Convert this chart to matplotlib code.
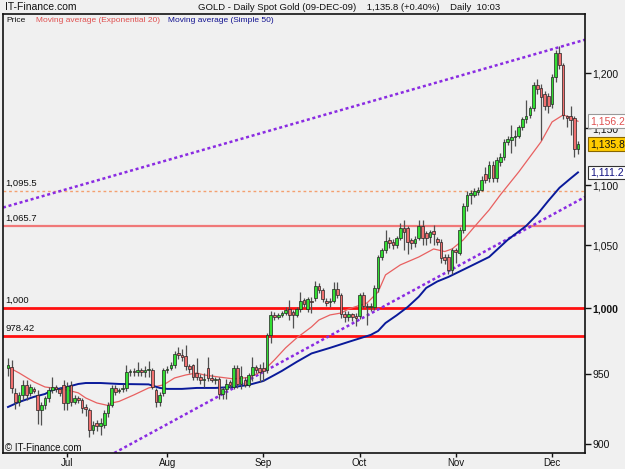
import matplotlib
matplotlib.use("Agg")
import matplotlib.pyplot as plt
import matplotlib.transforms as mtransforms
from matplotlib.ticker import FixedLocator, NullLocator, NullFormatter

plt.rcParams['font.family'] = ['Liberation Sans', 'DejaVu Sans']

# daily candles, June 2009 -> 09-Dec-2009 (bar index order)
opens = [955, 955.4, 936.4, 929.8, 934.9, 942.2, 936, 939, 934.9, 924.1,
         927.7, 932.8, 938.5, 940.7, 939, 942.2, 929.1, 942, 929.8, 932.8,
         931.3, 926, 924.1, 910, 914.5, 912.5, 913.4, 922, 927.7, 940,
         937.5, 939, 940, 951.7, 952.5, 951.5, 953, 951.5, 953, 953,
         938.5, 930, 936, 953, 954.5, 957, 966, 964.5, 963.4, 956,
         956.9, 951, 948.1, 946, 955, 947, 946, 946.4, 935.5, 939.3,
         944, 941, 954.5, 943, 945.8, 942.5, 949.5, 955.5, 955, 954.5,
         953.3, 979.4, 994.5, 993.5, 994.5, 996.5, 999.4, 997, 995, 999.5,
         1006.5, 999.4, 1006, 1008, 1017.6, 1014.3, 1006, 1004.5, 1005.3, 1014.8,
         1010, 995.4, 993, 995.4, 994, 994, 1010.5, 1001.5, 1001, 1001,
         1015.5, 1040.9, 1046.3, 1054.4, 1053, 1050.3, 1055.8, 1064, 1064, 1054.4,
         1051.6, 1055.8, 1065.7, 1060, 1056.5, 1062, 1055, 1053, 1040.9, 1040.9,
         1030.2, 1046, 1044, 1062.6, 1082.2, 1092, 1092, 1094.5, 1096.5, 1110,
         1106, 1117.6, 1106, 1120.5, 1124.8, 1137.8, 1139.4, 1142, 1143.4, 1150.7,
         1157.8, 1161.9, 1167.8, 1189.1, 1186, 1181, 1179, 1172, 1196.7, 1219.2,
         1207.5, 1160.5, 1160.5, 1159, 1131.6]
highs = [962, 960.7, 940, 937, 946, 946, 943, 941, 938.5, 930,
         934, 941, 948, 942, 941, 946, 944, 945, 935, 934,
         933, 928, 925.5, 916, 917, 918, 924, 930, 942, 942,
         940, 943, 957, 954, 955, 959, 955, 956, 960, 955,
         940, 937, 955, 956, 959, 967, 970.5, 969, 972, 958,
         958, 962, 950, 951, 963, 950, 948, 948, 941, 946.5,
         946, 957, 957, 956, 948, 951, 962.8, 957, 958, 959,
         981, 998, 997, 996, 998, 1001, 1006.5, 998.5, 1001, 1012.5,
         1008, 1009, 1009, 1021.4, 1020, 1016, 1008, 1008, 1020.5, 1020.5,
         1012, 997.7, 998, 996, 996.5, 1012, 1013, 1004, 1004, 1018,
         1042, 1048, 1062.6, 1057, 1055, 1058, 1068, 1070.9, 1066, 1056,
         1058, 1070.9, 1070.9, 1062, 1063, 1067, 1057, 1055, 1043, 1043,
         1048, 1048, 1065, 1085, 1095, 1096, 1098, 1099, 1108, 1116,
         1121, 1121, 1125, 1128, 1140, 1143, 1152.6, 1148, 1153, 1160,
         1175, 1170, 1192, 1195, 1190, 1184, 1182, 1199, 1222, 1225.8,
         1210, 1162, 1170, 1161, 1139]
lows = [949, 936.4, 925, 927, 931, 931, 934, 936, 914, 913,
        925, 930, 936, 937, 934, 924, 924, 927, 928, 929,
        922, 920, 905, 907, 909, 906, 911, 919, 926, 935,
        936, 937, 938, 949, 949, 949, 949, 948, 948, 939,
        925.9, 927, 934, 951, 953, 955, 961, 960, 953, 951,
        946, 946, 943, 941, 945, 944, 943, 932, 932, 932,
        940, 939, 940, 939, 941, 941, 945, 951, 944, 945,
        951, 973, 991, 992, 993, 995, 991, 985, 993, 997,
        1001, 997, 996, 1006, 1012, 1005, 1002, 1001, 1004, 1008,
        992.5, 989.5, 990, 990, 986, 992, 1000, 987, 998, 999,
        1013, 1038, 1044, 1048, 1047, 1048, 1054, 1046, 1043, 1047,
        1049, 1054, 1050, 1050, 1052, 1050, 1050, 1036, 1035, 1027,
        1027, 1036, 1042, 1060, 1078, 1084, 1090, 1092, 1095, 1102,
        1103, 1103, 1103, 1117, 1122, 1135, 1128.5, 1134, 1141, 1148,
        1155, 1159, 1165, 1180.9, 1139.4, 1166, 1164, 1168, 1192, 1204,
        1158, 1151, 1144, 1125, 1127]
closes = [957, 940, 929.8, 934.9, 942.2, 934.9, 940.5, 938, 924.1, 927.7,
          932.8, 938.5, 940.7, 939, 936.5, 929.1, 941.5, 929.8, 932.8, 931.3,
          925.5, 924.5, 909.9, 913, 912.5, 915, 922, 927.7, 940, 937,
          938.5, 940, 951.7, 952.5, 951.5, 953, 951.5, 953, 954, 941,
          929.5, 934.9, 953.3, 954, 957, 965.4, 964.5, 963, 956, 954,
          948.1, 948, 945.8, 946.8, 947, 946, 946.5, 935.5, 939.3, 943,
          942.5, 954.5, 943, 948.5, 942.2, 949.5, 955.5, 953.3, 952, 952.5,
          979.4, 994.5, 993.5, 994.5, 996, 998.7, 995, 994.5, 999.5, 1006,
          1003, 1007.4, 1005, 1017.6, 1014.3, 1007.5, 1004, 1005.3, 1014.8, 1010,
          995.4, 993, 995.4, 993.5, 992.5, 1010, 1002, 1001, 1002, 1015.5,
          1040.9, 1046.3, 1053.8, 1051.6, 1050.3, 1055.8, 1064, 1061.3, 1052.7, 1051.6,
          1055.5, 1065.7, 1056, 1056, 1061, 1059.5, 1052.9, 1039.8, 1038.2, 1030.2,
          1046.3, 1045, 1062.6, 1082.2, 1092, 1093.5, 1095, 1096.5, 1104.6, 1104.6,
          1117.6, 1106, 1122, 1124.8, 1137.8, 1140.5, 1142, 1143.4, 1150.7, 1157.8,
          1161, 1167.8, 1189.1, 1185.9, 1178, 1170, 1170, 1196.7, 1219.2, 1207.5,
          1161.9, 1159.2, 1157.2, 1132, 1135.8]

# moving averages (bar index -> value)
ema_idx = [0, 3, 7, 10, 12, 16, 19, 21, 24, 27, 28, 30, 34, 38, 42, 45, 48, 51, 53, 57,
           61, 65, 69, 72, 75, 78, 82, 84, 87, 90, 92, 97, 100, 102, 106, 111, 115, 118,
           120, 123, 126, 130, 133, 138, 144, 147, 150, 152, 154]
ema_val = [955.4, 951.0, 944.4, 940.7, 940.0, 938.5, 936.4, 932.7, 929.1, 927.3, 929.1,
           930.2, 934.9, 940.0, 942.2, 947.3, 949.5, 951.0, 949.5, 948.0, 946.6, 947.7,
           952.5, 960.7, 969.7, 977.2, 985.6, 990.9, 994.8, 996.3, 999.4, 1004.1, 1012.7,
           1026.2, 1034.2, 1040.6, 1047.1, 1045.0, 1047.1, 1054.5, 1065.2, 1079.3, 1091.9,
           1111.6, 1137.8, 1155.6, 1161.9, 1159.6, 1156.2]
sma_idx = [0, 3, 7, 10, 12, 16, 19, 21, 25, 30, 38, 41, 43, 47, 51, 56, 61, 65, 69, 72,
           74, 78, 82, 87, 92, 98, 100, 102, 105, 108, 111, 113, 116, 119, 124, 130, 135,
           140, 143, 146, 149, 152, 154]
sma_val = [926.2, 929.8, 933.5, 935.6, 938.5, 940.7, 942.9, 943.6, 943.6, 942.9, 942.6,
           940.0, 939.3, 939.3, 940.0, 940.0, 940.7, 942.2, 945.1, 949.5, 952.5, 959.2,
           965.5, 969.7, 974.2, 979.5, 982.5, 988.6, 994.5, 1001.0, 1009.0, 1015.9, 1021.0,
           1024.6, 1031.8, 1040.6, 1054.5, 1066.0, 1075.5, 1087.0, 1098.0, 1106.0, 1111.2]

# trend lines (two anchor points each) and horizontal levels
upper_trend = [(0, 1082.5), (154, 1229.8)]
lower_trend = [(30, 895.5), (154, 1087.0)]
levels = [1095.5, 1065.7, 1000, 978.42]
level_labels = ['1,095.5', '1,065.7', '1,000', '978.42']

month_idx = [16, 43, 69, 95, 121, 147]
month_lbl = ['Jul', 'Aug', 'Sep', 'Oct', 'Nov', 'Dec']
price_ticks = [900, 950, 1000, 1050, 1100, 1150, 1200]

W, H = 625, 469
fig = plt.figure(figsize=(W / 100, H / 100), dpi=100, facecolor='#f0f0f0')
ax = fig.add_axes([3 / W, (H - 453) / H, 582 / W, 439 / H])
ax.set_facecolor('#f0f0f0')
ax.set_yscale('log')
ax.set_xlim(-1.35, 155.9)
ax.set_ylim(893.7, 1256.6)

# horizontal levels
ax.axhline(1095.5, color='#f4a070', lw=1, ls=(0, (2, 2)), zorder=1)
ax.axhline(1065.7, color='#f07878', lw=1.6, zorder=1)
ax.axhline(1000, color='#ff1010', lw=2, zorder=1)
ax.axhline(978.42, color='#ff1010', lw=2, zorder=1)
lbl_tr = mtransforms.blended_transform_factory(ax.transAxes, ax.transData)
for lv, lb in zip(levels, level_labels):
    ax.text(0.004, lv * 1.0025, lb, transform=lbl_tr, fontsize=6.8,
            ha='left', va='bottom', color='#111111')

# trend lines
for tl in (upper_trend, lower_trend):
    ax.axline(tl[0], tl[1], color='#8a2be2', lw=1.8, ls=(0, (1.2, 1.1)), zorder=2)

# moving averages
ax.plot(ema_idx, ema_val, color='#e86060', lw=0.9, zorder=3)
ax.plot(sma_idx, sma_val, color='#0a1a9a', lw=1.4, zorder=3)

# candles
xs = list(range(len(closes)))
up = [c >= o for o, c in zip(opens, closes)]
ax.vlines(xs, lows, highs, color='#505050', lw=0.9, zorder=4)
bottoms = [min(o, c) for o, c in zip(opens, closes)]
heights = [max(abs(c - o), 0.6) for o, c in zip(opens, closes)]
cols = ['#33dd33' if u else '#f07070' for u in up]
ax.bar(xs, heights, bottom=bottoms, width=0.72, color=cols,
       edgecolor='#222222', linewidth=0.5, zorder=5)

# axes styling
for s in ax.spines.values():
    s.set_color('#111111')
    s.set_linewidth(1.2)
ax.yaxis.tick_right()
ax.yaxis.set_major_locator(FixedLocator(price_ticks))
ax.yaxis.set_minor_locator(NullLocator())
ax.yaxis.set_minor_formatter(NullFormatter())
ax.set_yticklabels([f'{v:,}' for v in price_ticks])
for t in ax.get_yticklabels():
    if t.get_text() == '1,000':
        t.set_fontweight('bold')
ax.set_xticks(month_idx)
ax.set_xticklabels(month_lbl)
ax.tick_params(axis='y', direction='out', length=4, width=1, labelsize=7.5,
               pad=1.5, colors='#111111')
ax.tick_params(axis='x', direction='out', length=3, width=1, labelsize=7,
               pad=0.5, colors='#111111')

# price tags on the right
tags = [(1156.2, '1,156.2', '#e05050', 'white', '#999999'),
        (1135.8, '1,135.8', '#111111', '#ffcc00', '#886600'),
        (1111.2, '1,111.2', '#101080', 'white', '#333333')]
for val, txt, tc, fc, ec in tags:
    ax.text(1.0 + 5 / 582, val, txt, transform=lbl_tr, fontsize=7.5, color=tc,
            ha='left', va='center', clip_on=False, zorder=10,
            bbox=dict(boxstyle='square,pad=0.18', fc=fc, ec=ec, lw=0.8))

# legend strip and header
ax.text(3 / 582, 1 - 7 / 439, 'Price', transform=ax.transAxes, fontsize=6.0,
        va='center', color='#111111')
ax.text(33 / 582, 1 - 7 / 439, 'Moving average (Exponential 20)',
        transform=ax.transAxes, fontsize=6.0, va='center', color='#e05050')
ax.text(165 / 582, 1 - 7 / 439, 'Moving average (Simple 50)',
        transform=ax.transAxes, fontsize=6.0, va='center', color='#101090')
ax.text(2 / 582, 5 / 439, '\u00a9 IT-Finance.com', transform=ax.transAxes,
        fontsize=7, va='center', color='#111111')

fig.text(5 / W, 1 - 7 / H, 'IT-Finance.com', fontsize=7.5, va='center',
         color='#111111')
fig.text(198 / W, 1 - 7 / H,
         'GOLD - Daily Spot Gold (09-DEC-09)    1,135.8 (+0.40%)    Daily  10:03',
         fontsize=6.8, va='center', color='#111111')

fig.savefig('out.png', dpi=100, facecolor=fig.get_facecolor())
